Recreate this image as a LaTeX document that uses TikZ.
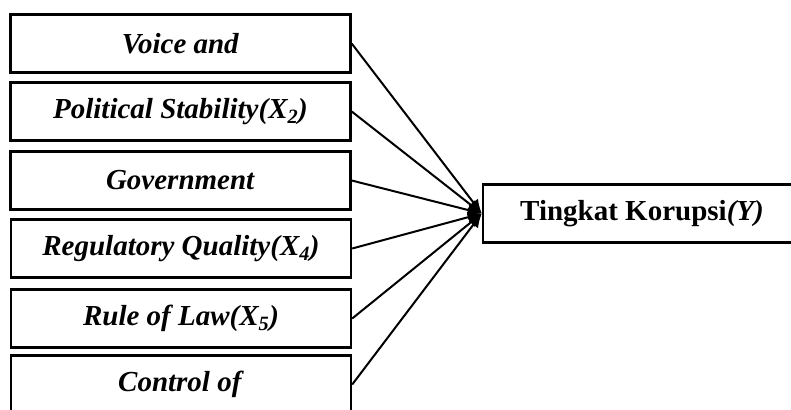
\documentclass[tikz,border=0pt]{standalone}
\usepackage{fontspec}
\setmainfont{Liberation Serif}
\usepackage{tikz}
\usetikzlibrary{arrows.meta}

\begin{document}
\begin{tikzpicture}[
  x=1pt, y=-1pt,
  font=\fontsize{29}{32}\selectfont\bfseries,
  varbox/.style={draw, line width=2.4pt, inner sep=0pt, minimum width=340pt, minimum height=58pt},
  ybox/.style={draw, line width=2.4pt, inner sep=0pt, minimum width=318pt, minimum height=58pt},
  link/.style={-{Latex[length=14pt, width=12pt]}, line width=2pt}
]

% Frame (the right box and the last box run past the edge)
\path[use as bounding box, clip] (0,0) rectangle (791,409);

% Independent variables
\node[varbox] (x1) at (180.5,43.5) {\textit{Voice and}};
\node[varbox] (x2) at (180.5,111.5) {\textit{Political Stability(X\textsubscript{2})}};
\node[varbox] (x3) at (180.5,180.5) {\textit{Government}};
\node[varbox] (x4) at (181,248.5) {\textit{Regulatory Quality(X\textsubscript{4})}};
\node[varbox] (x5) at (181,318.5) {\textit{Rule of Law(X\textsubscript{5})}};
\node[varbox] (x6) at (181,384.5) {\textit{Control of}};

% Dependent variable
\node[ybox] (y) at (642,213.5) {Tingkat Korupsi\textit{(Y)}};

% Arrows
\draw[link] (x1.east) -- (y.west);
\draw[link] (x2.east) -- (y.west);
\draw[link] (x3.east) -- (y.west);
\draw[link] (x4.east) -- (y.west);
\draw[link] (x5.east) -- (y.west);
\draw[link] (x6.east) -- (y.west);

\end{tikzpicture}
\end{document}
